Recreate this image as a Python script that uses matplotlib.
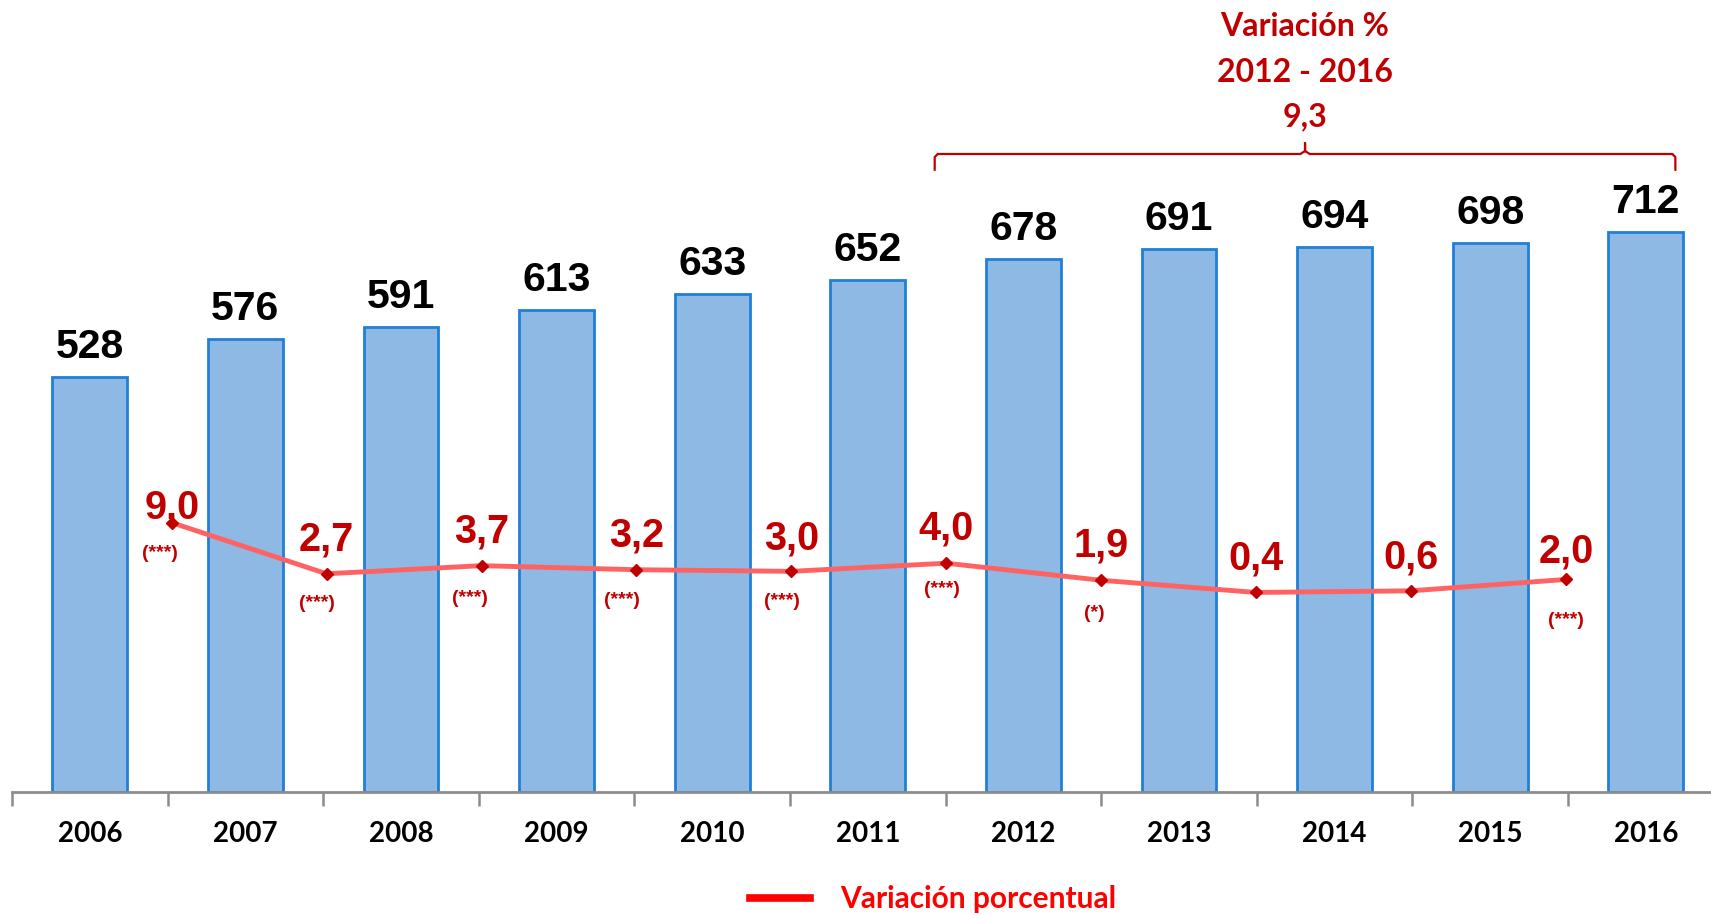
import matplotlib
matplotlib.use('Agg')
import matplotlib.pyplot as plt
from matplotlib.lines import Line2D
import numpy as np

# ---- data ----
years = ['2006', '2007', '2008', '2009', '2010', '2011', '2012', '2013', '2014', '2015', '2016']
values = [528, 576, 591, 613, 633, 652, 678, 691, 694, 698, 712]
var_pct = [9.0, 2.7, 3.7, 3.2, 3.0, 4.0, 1.9, 0.4, 0.6, 2.0]
var_labels = ['9,0', '2,7', '3,7', '3,2', '3,0', '4,0', '1,9', '0,4', '0,6', '2,0']
sig_labels = ['(***)', '(***)', '(***)', '(***)', '(***)', '(***)', '(*)', '', '', '(***)']
period_title = 'Variación %'
period_range = '2012 - 2016'
period_value = '9,3'
period_start, period_end = '2012', '2016'
legend_label = 'Variación porcentual'

# ---- style ----
W, H = 1711, 915
BAR_FILL = '#8EB9E4'
BAR_EDGE = '#1F80D6'
LINE_C = '#FF6262'
MARK_C = '#C00000'
DARK_RED = '#C00000'
NUM_FONT = 'Liberation Sans'
TXT_FONT = 'Lato'
# label offsets in pixels (value label visual center above point, sig label center)
label_dy = [18.5, 37, 37, 37, 36, 38, 38, 37, 36, 30.5]
sig_off = [(-12, -30.5), (-10, -29.5), (-12, -32.7), (-14, -30.5), (-9, -29.5),
           (-4, -26), (-6.5, -32.7), (0, 0), (0, 0), (0, -41)]

fig = plt.figure(figsize=(W / 100, H / 100), dpi=100)
axis_px = 792          # baseline pixel row from top
left_px = 12
cat_w = 155.6
rect = [left_px / W, (H - axis_px) / H, 1 - left_px / W, axis_px / H]
ax = fig.add_axes(rect)
x = np.arange(len(years))

ax.bar(x, values, width=0.48, color=BAR_FILL, edgecolor=BAR_EDGE, linewidth=2, zorder=2)
for xi, v in zip(x, values):
    ax.annotate(str(v), (xi, v), xytext=(0, 19), textcoords='offset pixels',
                ha='center', va='baseline', fontsize=29.5, fontweight='bold',
                family=NUM_FONT, color='black', zorder=5)

for s in ['top', 'left', 'right']:
    ax.spines[s].set_visible(False)
ax.spines['bottom'].set_color('#8C8C8C')
ax.spines['bottom'].set_linewidth(2)
ax.set_yticks([])
ax.set_xticks(x)
ax.set_xticklabels(years, fontsize=20, fontweight='bold', family=TXT_FONT)
ax.set_xticks(np.arange(len(years) + 1) - 0.5, minor=True)
ax.tick_params(axis='x', which='major', length=0, pad=21)
ax.tick_params(axis='x', which='minor', length=10, width=1.8, color='#8C8C8C', direction='out')
ax.set_xlim(-0.5, -0.5 + (W - left_px) / cat_w)
ax.set_ylim(0, axis_px / 0.786)

# ---- line on secondary axes (own category scale) ----
ax2 = fig.add_axes(rect)
ax2.patch.set_visible(False)
zero_px = 595.7
ppu = 8.12
line_w = 154.9
first_px = 171.7
xl = np.arange(len(var_pct))
ax2.plot(xl, var_pct, color=LINE_C, lw=3.5, marker='D', ms=6.5,
         markerfacecolor=MARK_C, markeredgecolor=MARK_C, zorder=3)
for xi, v, lab, dy, sl, (sdx, sdy) in zip(xl, var_pct, var_labels, label_dy, sig_labels, sig_off):
    ax2.annotate(lab, (xi, v), xytext=(0, dy - 14), textcoords='offset pixels',
                 ha='center', va='baseline', fontsize=28.5, fontweight='bold',
                 family=NUM_FONT, color=DARK_RED, zorder=6)
    if sl:
        ax2.annotate(sl, (xi, v), xytext=(sdx, sdy - 5), textcoords='offset pixels',
                     ha='center', va='baseline', fontsize=14, fontweight='bold',
                     family=NUM_FONT, color=DARK_RED, zorder=6)
x2l = -(first_px - left_px) / line_w
ax2.set_xlim(x2l, x2l + (W - left_px) / line_w)
ax2.set_ylim(-(axis_px - zero_px) / ppu, zero_px / ppu)
ax2.axis('off')

# ---- bracket for period ----
i0, i1 = years.index(period_start), years.index(period_end)
bl, br = i0 - 0.57, i1 + 0.19
bm = (bl + br) / 2
ypx = lambda p: (axis_px - p) / 0.786
ax.plot([bl, bl, bl + 0.02], [ypx(170), ypx(157), ypx(154)],
        color=DARK_RED, lw=1.6, clip_on=False, solid_joinstyle='round', solid_capstyle='round')
ax.plot([br, br, br - 0.02], [ypx(170), ypx(157), ypx(154)],
        color=DARK_RED, lw=1.6, clip_on=False, solid_joinstyle='round', solid_capstyle='round')
ax.plot([bl + 0.02, bm - 0.03, bm, bm, bm, bm + 0.03, br - 0.02],
        [ypx(154), ypx(154), ypx(151), ypx(143), ypx(151), ypx(154), ypx(154)],
        color=DARK_RED, lw=1.6, clip_on=False, solid_joinstyle='round', solid_capstyle='round')

cx = 1305 / W
for txt, yp in [(period_title, 26), (period_range, 72), (period_value, 117)]:
    fig.text(cx, 1 - yp / H, txt, ha='center', va='center', fontsize=23,
             fontweight='bold', family=TXT_FONT, color=DARK_RED)

# ---- legend ----
handle = Line2D([], [], color='#FF0000', lw=5.5)
fig.legend(handles=[handle], labels=[legend_label], loc='center',
           bbox_to_anchor=(933 / W, 1 - 899 / H), frameon=False,
           handlelength=2.0, handletextpad=1.0, borderpad=0, borderaxespad=0,
           prop={'family': TXT_FONT, 'weight': 'bold', 'size': 21.5}, labelcolor='#FF0000')

fig.savefig('out.png', dpi=100)
